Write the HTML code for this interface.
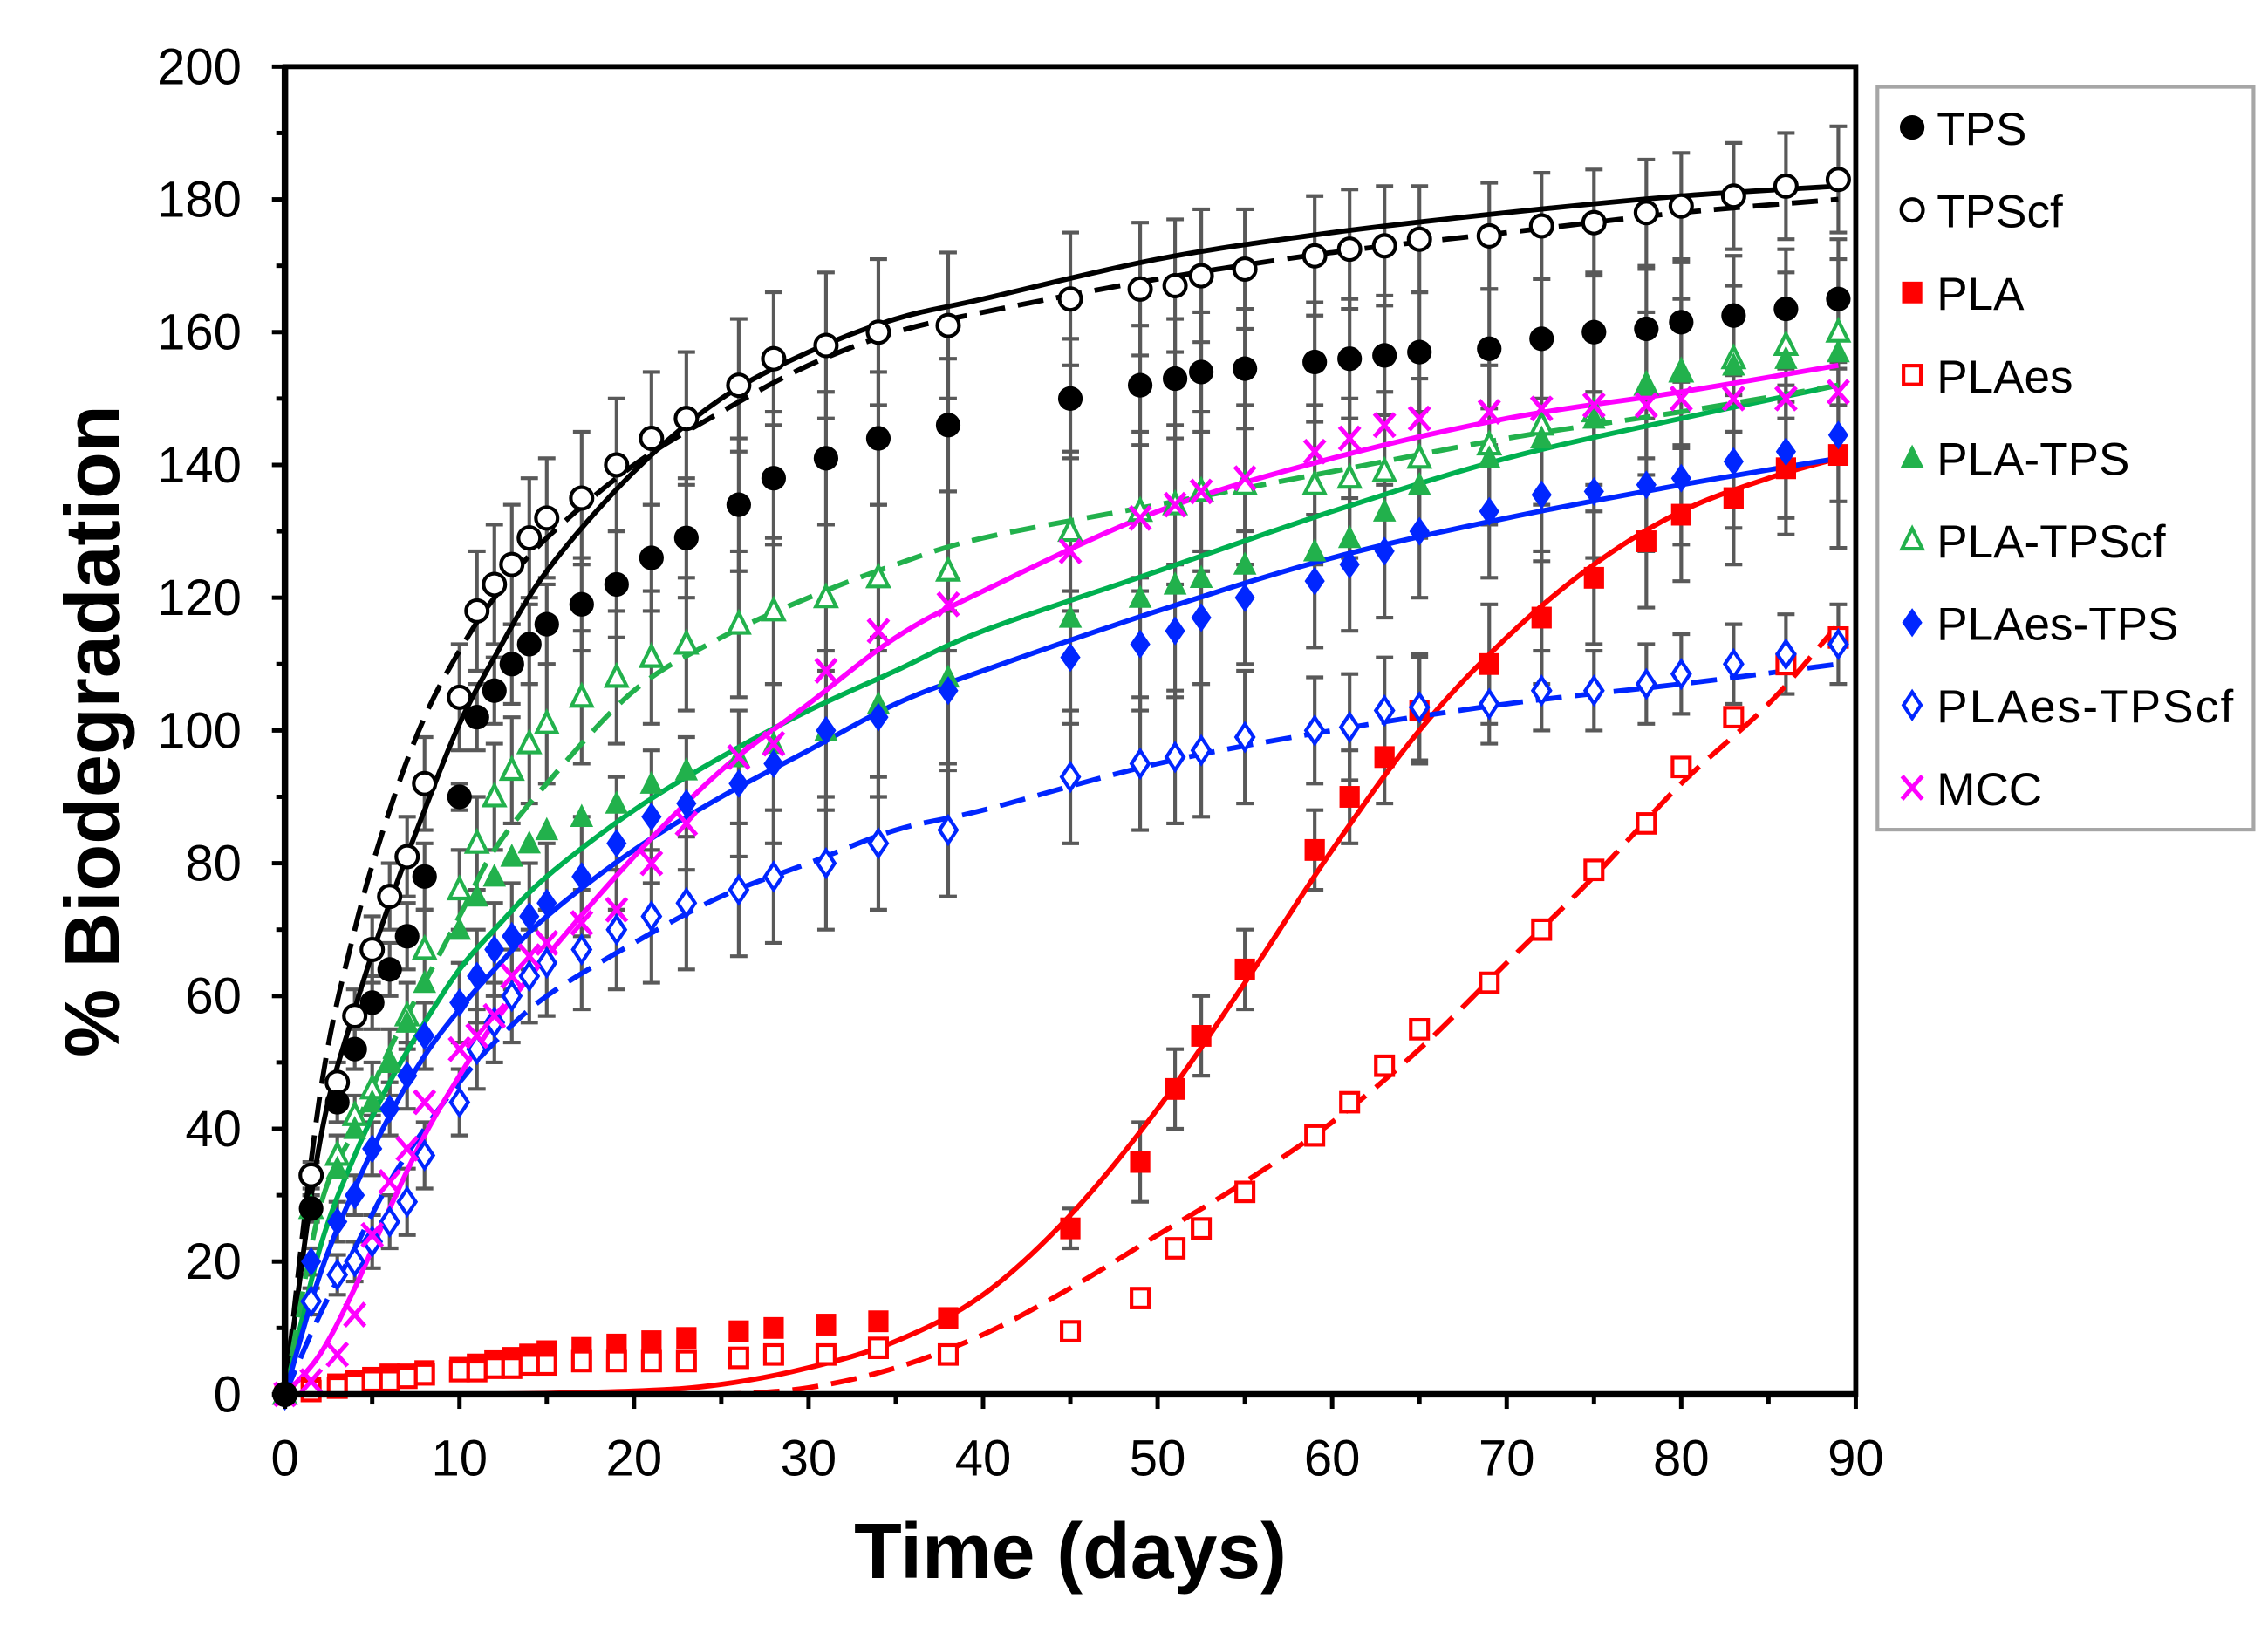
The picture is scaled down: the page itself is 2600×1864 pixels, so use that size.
<!DOCTYPE html>
<html><head><meta charset="utf-8"><style>
html,body{margin:0;padding:0;background:#fff;}
svg{display:block;font-family:"Liberation Sans",Arial,sans-serif;}
</style></head><body>
<svg id="chart" width="2600" height="1864" viewBox="0 0 1568 1123" preserveAspectRatio="none" xmlns="http://www.w3.org/2000/svg">
<rect x="0" y="0" width="1568" height="1123" fill="#fff"/>
<g id="errs"></g>
<g id="lines"></g>
<g id="marks"></g>
<g id="axes"></g>
<text x="740" y="1090" text-anchor="middle" font-size="54" font-weight="bold">Time (days)</text>
<text transform="translate(82,505) rotate(-90)" text-anchor="middle" font-size="53" font-weight="bold">% Biodegradation</text>
<g id="legend"></g>
</svg>
<script>
const T=[0,1.5,3,4,5,6,7,8,10,11,12,13,14,15,17,19,21,23,26,28,31,34,38,45,49,51,52.5,55,59,61,63,65,69,72,75,78,80,83,86,89];
const TPS=[0,28,44,52,59,64,69,78,90,102,106,110,113,116,119,122,126,129,134,138,141,144,146,150,152,153,154,154.5,155.5,156,156.5,157,157.5,159,160,160.5,161.5,162.5,163.5,165];
const TPScf=[0,33,47,57,67,75,81,92,105,118,122,125,129,132,135,140,144,147,152,156,158,160,161,165,166.5,167,168.5,169.5,171.5,172.5,173,174,174.5,176,176.5,178,179,180.5,182,183];
const PLA=[0,1,1.5,2,2.5,3,3,3.5,4,4.5,5,5.5,6,6.5,7,7.5,8,8.5,9.5,10,10.5,11,11.5,25,35,46,54,64,82,90,96,103,110,117,123,128.5,132.5,135,139.5,141.5];
const PLAes=[0,0.5,1,1.5,2,2,2.5,3,3.5,3.5,4,4,4.5,4.5,5,5,5,5,5.5,6,6,7,6,9.5,14.5,22,25,30.5,39,44,49.5,55,62,70,79,86,94.5,102,110,114];
const PLATPS=[0,28,34,40,44,50,56,62,70,75,78,81,83,85,87,89,92,94,96,98,100,104,108,117,120,122,123,125,127,129,133,137,141,144,147,152,154,155,156,157];
const PLATPScf=[0,28,36,42,46,50,57,67,76,83,90,94,98,101,105,108,111,113,116,118,120,123,124,130,133,134,136,137,137,138,139,141,143,146,148,152,154,156,158,160];
const PLAesTPS=[0,20,26,30,37,43,48,54,59,63,67,69,72,74,78,83,87,89,92,95,100,102,106,111,113,115,117,120,122.5,125,127,130,133,135.5,136,137,138,140.5,142,144.5];
const PLAesTPScf=[0,14,18,20,23,26,29,36,44,52,56,60,63,65,67,70,72,74,76,78,80,83,85,93,95,96,97,99,100,100.5,103,103.5,104,106,106,107,108.5,110,111.5,113];
const MCC=[0,2,6,12,24,32,37,44,52,54,57,63,66,68,71,73,80,86,96,98,109,115,119,127,132,134,136,138,142,144,146,147,148,148.5,149,149,150,150,150,151];
const errTPS=[0,2,3,3,4,4,5,5,2,5,5,6,6,6,7,8,8,9,10,10,10,10,10,9,9,9,9,9,9,9,9,9,9,9,9,9,9,9,9,9];
const errTPScf=[0,2,3,4,5,5,6,7,8,9,9,9,9,9,10,10,10,10,10,10,11,11,11,10,10,10,10,9,9,9,9,8,8,8,8,8,8,8,8,8];
const errPLA=[0,0,0,0,0,0,0,0,1,1,1,1,1,1,1,1,1,1,1,1,1,1,1,3,6,6,6,6,6,7,7,8,9,10,10,10,10,10,10,14];
const errPLATPScf=[0,2,3,3,4,5,5,6,6,7,8,8,9,9,10,10,10,10,11,11,11,11,12,12,12,12,12,12,12,12,12,12,12,12,11,11,11,11,11,11];
const errPLAesTPS=[0,2,3,3,4,4,5,5,6,7,7,8,8,9,9,10,10,10,11,12,12,12,12,10,10,10,10,10,10,10,10,10,10,10,10,10,10,10,10,10];
const errPLAesTPScf=[0,2,3,3,4,4,5,5,5,6,6,7,7,8,9,9,10,10,10,10,10,10,10,10,10,10,10,10,8,8,8,8,6,6,6,6,6,6,6,6];
const FT=[0,2,4,6,8,10,12,15,20,25,30,35,40,50,60,70,80,89];
const FTR=[0,10,20,25,30,35,40,45,50,55,60,65,70,75,80,85,89];
const fitTPS=[0,38,58,74,88,101,111,124,139,150,157,162,165,171,175,178,180.5,182];
const fitTPScf=[0,45,70,88,102,112,120,129,140,148,155,160,163,168,172,175,178,180];
const fitPLA=[0,0,0.5,1.5,4,8,15,27,43,62,82,100,114,125,133,138,141];
const fitPLAes=[0,0,0,0,1,4,9,16,24,32,41,52,65,78,92,104,116];
const fitPLATPS=[0,22,36,47,56,64,70,78,88,96,103,109,115,124,133,141,147,152];
const fitPLATPScf=[0,28,40,52,62,72,82,92,106,114,120,125,129,134,139,144,148,152];
const fitPLAesTPS=[0,18,31,42,51,58,64,72,82,90,97,104,109,118,126,132,137,141];
const fitPLAesTPScf=[0,12,22,32,40,47,53,60,68,75,80,85,88,95,100,104,107,110];
const fitMCC=[0,6,16,28,39,48,56,66,81,94,104,114,121,133,141,147,151,155];
const xTicks=[0,10,20,30,40,50,60,70,80,90];
const yTicks=[0,20,40,60,80,100,120,140,160,180,200];
const legendLabels=["TPS","TPScf","PLA","PLAes","PLA-TPS","PLA-TPScf","PLAes-TPS","PLAes-TPScf","MCC"];

const NS="http://www.w3.org/2000/svg";
const X0=197,X1=1283,Y0=963,Y1=46;
const sx=t=>X0+(t/90)*(X1-X0);
const sy=v=>Y0-(v/200)*(Y0-Y1);
function mk(tag,attrs,parent){const e=document.createElementNS(NS,tag);for(const k in attrs)e.setAttribute(k,attrs[k]);parent.appendChild(e);return e;}
const errs=document.getElementById('errs'),lines=document.getElementById('lines'),marks=document.getElementById('marks'),axes=document.getElementById('axes'),legend=document.getElementById('legend');

function errorBars(vals,errArr,name){
  for(let i=0;i<T.length;i++){const e=errArr[i];if(!e)continue;
    const x=sx(T[i]),a=sy(vals[i]+e),b=sy(vals[i]-e);
    const p=mk('path',{d:`M${x},${a}V${b}M${x-6},${a}H${x+6}M${x-6},${b}H${x+6}`,stroke:'#595959','stroke-width':2.5,fill:'none'},errs);
    
    
  }
}
errorBars(TPS,errTPS,'tps');errorBars(TPScf,errTPScf,'tpscf');errorBars(PLA,errPLA,'pla');
errorBars(PLATPScf,errPLATPScf,'pla-tpscf');errorBars(PLAesTPS,errPLAesTPS,'plaes-tps');errorBars(PLAesTPScf,errPLAesTPScf,'plaes-tpscf');

function curve(ts,vs,color,dash,name){
  const p=ts.map((t,i)=>[sx(t),sy(vs[i])]);
  let d=`M${p[0][0]},${p[0][1]}`;
  for(let i=0;i<p.length-1;i++){
    const p0=p[Math.max(0,i-1)],p1=p[i],p2=p[i+1],p3=p[Math.min(p.length-1,i+2)];
    const c1=[p1[0]+(p2[0]-p0[0])/6,p1[1]+(p2[1]-p0[1])/6],c2=[p2[0]-(p3[0]-p1[0])/6,p2[1]-(p3[1]-p1[1])/6];
    d+=`C${c1[0]},${c1[1]} ${c2[0]},${c2[1]} ${p2[0]},${p2[1]}`;
  }
  const a={d,stroke:color,'stroke-width':3.5,fill:'none'};if(dash)a['stroke-dasharray']='18 9';
  const e=mk('path',a,lines);
  
  
}
curve(FT,fitTPS,'#000',false,'tps');curve(FT,fitTPScf,'#000',true,'tpscf');
curve(FTR,fitPLA,'#ff0000',false,'pla');curve(FTR,fitPLAes,'#ff0000',true,'plaes');
curve(FT,fitPLATPS,'#00b050',false,'pla-tps');curve(FT,fitPLATPScf,'#22b14c',true,'pla-tpscf');
curve(FT,fitPLAesTPS,'#0026ff',false,'plaes-tps');curve(FT,fitPLAesTPScf,'#0026ff',true,'plaes-tpscf');
curve(FT,fitMCC,'#ff00ff',false,'mcc');

function marker(type,x,y,parent){
  let e;
  if(type==='circle')e=mk('circle',{cx:x,cy:y,r:8.5,fill:'#000'},parent);
  else if(type==='ocircle')e=mk('circle',{cx:x,cy:y,r:7.5,fill:'#fff',stroke:'#000','stroke-width':2.5},parent);
  else if(type==='square')e=mk('rect',{x:x-7,y:y-7.5,width:14,height:15,fill:'#ff0000'},parent);
  else if(type==='osquare')e=mk('rect',{x:x-6,y:y-6.5,width:12,height:13,fill:'#fff',stroke:'#ff0000','stroke-width':2.5},parent);
  else if(type==='tri')e=mk('path',{d:`M${x},${y-9}L${x+8},${y+7}L${x-8},${y+7}Z`,fill:'#22b14c'},parent);
  else if(type==='otri')e=mk('path',{d:`M${x},${y-8}L${x+7},${y+6}L${x-7},${y+6}Z`,fill:'#fff',stroke:'#22b14c','stroke-width':2.5},parent);
  else if(type==='dia')e=mk('path',{d:`M${x},${y-10}L${x+7},${y}L${x},${y+10}L${x-7},${y}Z`,fill:'#0026ff'},parent);
  else if(type==='odia')e=mk('path',{d:`M${x},${y-9}L${x+6},${y}L${x},${y+9}L${x-6},${y}Z`,fill:'#fff',stroke:'#0026ff','stroke-width':2.5},parent);
  else e=mk('path',{d:`M${x-7},${y-8}L${x+7},${y+8}M${x+7},${y-8}L${x-7},${y+8}`,stroke:'#ff00ff','stroke-width':3,fill:'none'},parent);
  return e;
}
const series=[[TPS,'circle'],[TPScf,'ocircle'],[PLA,'square'],[PLAes,'osquare'],[PLATPS,'tri'],[PLATPScf,'otri'],[PLAesTPS,'dia'],[PLAesTPScf,'odia'],[MCC,'x']];
const drawOrder=[2,3,5,4,7,6,8,1,0];
drawOrder.forEach(si=>{const [vals,type]=series[si];
  for(let i=0;i<T.length;i++){const e=marker(type,sx(T[i]),sy(vals[i]),marks);
    
    }
});

// axes
const frame=mk('rect',{x:X0,y:Y1,width:X1-X0,height:Y0-Y1,fill:'none',stroke:'#000','stroke-width':3.5},axes);

mk('path',{d:`M${X0},${Y1}V${Y0}H${X1}`,stroke:'#000','stroke-width':4.5,fill:'none'},axes);
for(let v=0;v<=200;v+=10){const y=sy(v);mk('path',{d:`M${X0-(v%20===0?9:6)},${y}H${X0}`,stroke:'#000','stroke-width':3},axes);}
for(let t=0;t<=90;t+=5){const x=sx(t);mk('path',{d:`M${x},${Y0}V${Y0+(t%10===0?10:7)}`,stroke:'#000','stroke-width':3},axes);}
yTicks.forEach(v=>{const e=mk('text',{x:X0-30,y:sy(v)+12,'text-anchor':'end','font-size':35},axes);e.textContent=v;
  });
xTicks.forEach(t=>{const e=mk('text',{x:sx(t),y:Y0+56,'text-anchor':'middle','font-size':35},axes);e.textContent=t;
  });

// legend
const lb=mk('rect',{x:1298,y:60,width:260,height:513,fill:'#fff',stroke:'#a6a6a6','stroke-width':2.5},legend);

legendLabels.forEach((lab,i)=>{const y=88+i*57;
  const g=mk('g',{},legend);
  
  
  marker(series[i][1],1322,y,g);
  const t=mk('text',{x:1339,y:y+12,'font-size':32,textLength:(lab.length>9?205:null)},g);t.textContent=lab;
  if(lab.length<=9)t.removeAttribute('textLength');
});
</script>
</body></html>
